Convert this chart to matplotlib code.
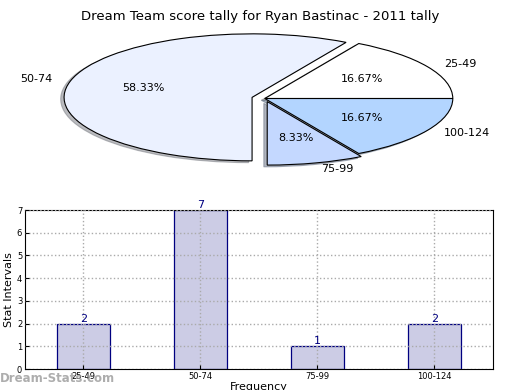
import numpy as np
import matplotlib
matplotlib.use("Agg")
import matplotlib.pyplot as plt

# score intervals and how many games fell in each
intervals = ['25-49', '50-74', '75-99', '100-124']
counts = [2, 7, 1, 2]
pie_colors = ['#FFFFFF', '#EBF1FF', '#C4D8FF', '#B3D5FF']
explode = [0.0, 0.07, 0.05, 0.0]

fig = plt.figure(figsize=(5.2, 3.9), dpi=100)

fig.text(0.5, 0.975, "Dream Team score tally for Ryan Bastinac - 2011 tally",
         ha='center', va='top', fontsize=9.5)

# squashed pie (no equal aspect, like old matplotlib)
ax1 = fig.add_axes([0.1115, 0.5683, 0.7954, 0.3582])
wedges, texts, autotexts = ax1.pie(counts, labels=intervals, colors=pie_colors,
                                   explode=explode, autopct='%1.2f%%',
                                   shadow={'ox': -0.013, 'oy': -0.02, 'shade': 0.5},
                                   startangle=0, counterclock=True,
                                   wedgeprops={'edgecolor': 'black', 'linewidth': 0.8},
                                   textprops={'fontsize': 8})
ax1.set_aspect('auto')
ax1.set_xlim(-1.1, 1.1)
ax1.set_ylim(-1.1, 1.1)
ax1.axis('off')

# bar chart
ax2 = fig.add_axes([0.048, 0.0538, 0.9, 0.4077])
x = np.arange(len(intervals))
ax2.bar(x, counts, width=0.45, color='#CCCCE5', edgecolor='#000080', linewidth=0.9)
for xi, c in zip(x, counts):
    ax2.text(xi, c, str(c), ha='center', va='bottom', color='#000080', fontsize=8)
ax2.set_xlim(-0.5, 3.5)
ax2.set_ylim(0, 7)
ax2.set_xticks(x)
ax2.set_xticklabels(intervals)
ax2.set_yticks(range(8))
ax2.tick_params(labelsize=6, direction='in', length=3, pad=2)
ax2.grid(True, linestyle=':', color='#AAAAAA', linewidth=1)
ax2.set_axisbelow(False)
ax2.set_ylabel('Stat Intervals', fontsize=8, labelpad=2)
ax2.set_xlabel('Frequency', fontsize=8, labelpad=1)

fig.text(0.0, 0.012, 'Dream-Stats.com', fontsize=8.5, fontweight='bold',
         color='#999999', alpha=0.8, ha='left', va='bottom')

fig.savefig('out.png', dpi=100)
